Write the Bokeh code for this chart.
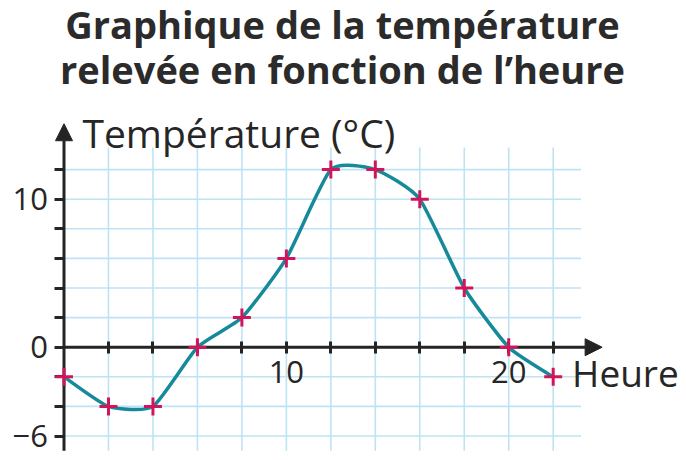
import numpy as np
from bokeh.plotting import figure
from bokeh.models import Range1d, LinearAxis, FixedTicker, Arrow, NormalHead, Label
from bokeh.embed import file_html
from bokeh.resources import INLINE

# ---- data ----
hours = [0, 2, 4, 6, 8, 10, 12, 14, 16, 18, 20, 22]
temps = [-2, -4, -4, 0, 2, 6, 12, 12, 10, 4, 0, -2]
x_ticks = [2, 4, 6, 8, 10, 12, 14, 16, 18, 20, 22]
x_tick_labels = {10: "10", 20: "20"}
y_ticks = [-6, -4, -2, 0, 2, 4, 6, 8, 10, 12]
y_tick_labels = {-6: "\u22126", 0: "0", 10: "10"}
title_lines = ["Graphique de la température", "relevée en fonction de l\u2019heure"]
x_label = "Heure"
y_label = "Température (°C)"

TEXT = "#262626"
AXIS = "#242424"
GRID = "#bde3f5"
CURVE = "#16899a"
MARK = "#d4145a"
FONT = "Open Sans"

W, H = 686, 460
p = figure(width=W, height=H, output_backend="svg", toolbar_location=None,
           x_axis_type=None, y_axis_type=None,
           x_range=Range1d(-2.856, 27.995), y_range=Range1d(-7.655, 23.426),
           min_border=0, min_border_left=0, min_border_right=0,
           min_border_top=0, min_border_bottom=0)
p.outline_line_color = None
p.background_fill_color = "white"
p.border_fill_color = "white"

# ---- grid (bounded) ----
gx = [0] + x_ticks
p.segment(x0=gx, y0=[-7.0] * len(gx), x1=gx, y1=[13.5] * len(gx),
          line_color=GRID, line_width=1.6, level="image")
p.segment(x0=[0] * len(y_ticks), y0=y_ticks, x1=[23.25] * len(y_ticks), y1=y_ticks,
          line_color=GRID, line_width=1.6, level="image")

# ---- axes ----
xaxis = LinearAxis(fixed_location=0, ticker=FixedTicker(ticks=x_ticks))
xaxis.major_label_overrides = {t: x_tick_labels.get(t, "") for t in x_ticks}
xaxis.axis_line_color = None
xaxis.major_tick_in = 6
xaxis.major_tick_out = 6
xaxis.major_tick_line_width = 3
xaxis.major_tick_line_color = AXIS
xaxis.minor_tick_line_color = None
xaxis.major_label_standoff = 8
xaxis.major_label_text_font = FONT
xaxis.major_label_text_font_size = "31px"
xaxis.major_label_text_color = TEXT
xaxis.level = "underlay"
p.add_layout(xaxis, "below")

yaxis = LinearAxis(fixed_location=0, ticker=FixedTicker(ticks=y_ticks))
yaxis.major_label_overrides = {t: y_tick_labels.get(t, "") for t in y_ticks}
yaxis.axis_line_color = None
yaxis.major_tick_in = 0
yaxis.major_tick_out = 10
yaxis.major_tick_line_width = 3
yaxis.major_tick_line_color = AXIS
yaxis.minor_tick_line_color = None
yaxis.major_label_standoff = 6
yaxis.major_label_text_font = FONT
yaxis.major_label_text_font_size = "31px"
yaxis.major_label_text_color = TEXT
yaxis.level = "underlay"
p.add_layout(yaxis, "left")

p.add_layout(Arrow(x_start=0, y_start=-7.0, x_end=0, y_end=15.1,
                   line_width=3, line_color=AXIS, level="underlay",
                   end=NormalHead(size=17, fill_color=AXIS, line_color=AXIS, line_width=1)))
p.add_layout(Arrow(x_start=0, y_start=0, x_end=24.2, y_end=0,
                   line_width=3, line_color=AXIS, level="underlay",
                   end=NormalHead(size=17, fill_color=AXIS, line_color=AXIS, line_width=1)))

# ---- smooth curve through the points (cardinal spline -> cubic Bezier) ----
k = 0.55
xs = np.array(hours, dtype=float)
ys = np.array(temps, dtype=float)
px = np.concatenate([[xs[0]], xs, [xs[-1]]])
py = np.concatenate([[ys[0]], ys, [ys[-1]]])
n = len(xs) - 1
x0 = px[1:n + 1]; y0 = py[1:n + 1]
x1 = px[2:n + 2]; y1 = py[2:n + 2]
cx0 = x0 + k * (px[2:n + 2] - px[0:n]) / 6.0
cy0 = y0 + k * (py[2:n + 2] - py[0:n]) / 6.0
cx1 = x1 - k * (px[3:n + 3] - px[1:n + 1]) / 6.0
cy1 = y1 - k * (py[3:n + 3] - py[1:n + 1]) / 6.0
p.bezier(x0=x0, y0=y0, x1=x1, y1=y1, cx0=cx0, cy0=cy0, cx1=cx1, cy1=cy1,
         line_color=CURVE, line_width=3.5)

p.scatter(hours, temps, marker="cross", size=18, line_width=3, line_color=MARK)

# ---- texts ----
p.add_layout(Label(x=0.83, y=14.51, text=y_label, text_font=FONT,
                   text_font_size="39px", text_color=TEXT,
                   text_align="left", text_baseline="alphabetic"))
p.add_layout(Label(x=22.85, y=-1.71, text=x_label, text_font=FONT,
                   text_font_size="37px", text_color=TEXT,
                   text_align="left", text_baseline="alphabetic"))
for i, line in enumerate(title_lines):
    p.add_layout(Label(x=342, y=H - 23.7 - 45 * i, x_units="screen", y_units="screen",
                       text=line, text_font=FONT, text_font_style="bold",
                       text_font_size="38px", text_color="#2b2b2b",
                       text_align="center", text_baseline="alphabetic"))

open("out.html", "w").write(file_html(p, INLINE))
